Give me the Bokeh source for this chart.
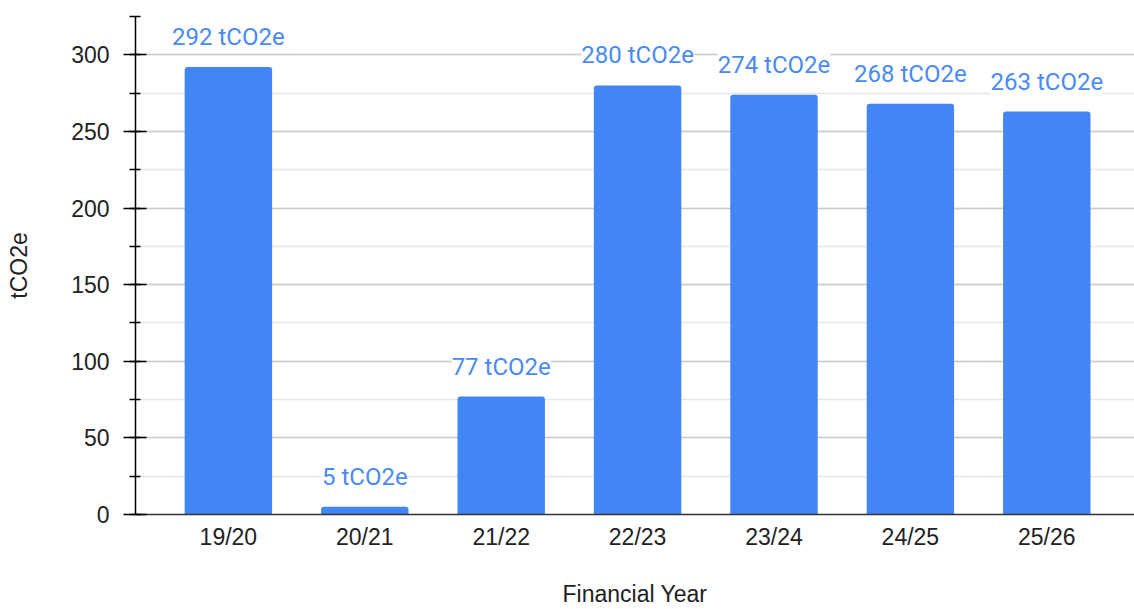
from bokeh.plotting import figure
from bokeh.models import Range1d, SingleIntervalTicker, FixedTicker, ColumnDataSource, LabelSet
from bokeh.core.properties import value
from bokeh.embed import file_html
from bokeh.resources import INLINE

years = ["19/20", "20/21", "21/22", "22/23", "23/24", "24/25", "25/26"]
emissions = [292, 5, 77, 280, 274, 268, 263]
unit = "tCO2e"
x_title = "Financial Year"
y_title = "tCO2e"

idx = list(range(len(years)))
labels = [f"{v} {unit}" for v in emissions]
src = ColumnDataSource(dict(x=idx, top=emissions, label=labels))

p = figure(width=1134, height=609, output_backend="svg", toolbar_location=None,
           x_range=Range1d(-0.681, 6.643), y_range=Range1d(0, 325),
           min_border_left=135, min_border_right=0, min_border_top=16, min_border_bottom=95)
p.outline_line_color = None
p.background_fill_color = "white"
p.border_fill_color = "white"

p.vbar(x="x", top="top", width=0.641, source=src, fill_color="#4285F4",
       line_color=None, border_radius=(3, 3, 0, 0))

lbl = LabelSet(x="x", y="top", text="label", source=src, text_align="center",
               text_baseline="alphabetic", y_offset=22, text_font=value("Roboto"),
               text_font_size="24px", text_color="#4a8af4",
               background_fill_color="white")
p.add_layout(lbl)

# y axis
p.yaxis.ticker = SingleIntervalTicker(interval=50, num_minor_ticks=2)
p.yaxis.axis_line_color = "black"
p.yaxis.axis_line_width = 1.5
p.yaxis.major_tick_line_color = "black"
p.yaxis.major_tick_line_width = 1.5
p.yaxis.minor_tick_line_color = "black"
p.yaxis.minor_tick_line_width = 1.5
p.yaxis.major_tick_in = 11
p.yaxis.major_tick_out = 12
p.yaxis.minor_tick_in = 5
p.yaxis.minor_tick_out = 6
p.yaxis.major_label_text_font = "Liberation Sans"
p.yaxis.major_label_text_font_size = "23px"
p.yaxis.major_label_text_color = "#222222"
p.yaxis.major_label_standoff = 14
p.yaxis.axis_label = y_title
p.yaxis.axis_label_text_font = "Liberation Sans"
p.yaxis.axis_label_text_font_size = "23px"
p.yaxis.axis_label_text_font_style = "normal"
p.yaxis.axis_label_text_color = "#222222"
p.yaxis.axis_label_standoff = 36

# x axis
p.xaxis.ticker = FixedTicker(ticks=idx)
p.xaxis.major_label_overrides = {i: y for i, y in zip(idx, years)}
p.xaxis.major_tick_line_color = None
p.xaxis.minor_tick_line_color = None
p.xaxis.major_tick_out = 0
p.xaxis.major_tick_in = 0
p.xaxis.axis_line_color = "#333333"
p.xaxis.axis_line_width = 1.5
p.xaxis.major_label_text_font = "Liberation Sans"
p.xaxis.major_label_text_font_size = "23px"
p.xaxis.major_label_text_color = "#222222"
p.xaxis.major_label_standoff = 9
p.xaxis.axis_label = x_title
p.xaxis.axis_label_text_font = "Liberation Sans"
p.xaxis.axis_label_text_font_size = "23px"
p.xaxis.axis_label_text_font_style = "normal"
p.xaxis.axis_label_text_color = "#222222"
p.xaxis.axis_label_standoff = 28

p.xgrid.grid_line_color = None
p.ygrid.grid_line_color = "#cccccc"
p.ygrid.grid_line_width = 1.5
p.ygrid.minor_grid_line_color = "#e6e6e6"
p.ygrid.minor_grid_line_width = 1.5

open("out.html", "w").write(file_html(p, INLINE))
